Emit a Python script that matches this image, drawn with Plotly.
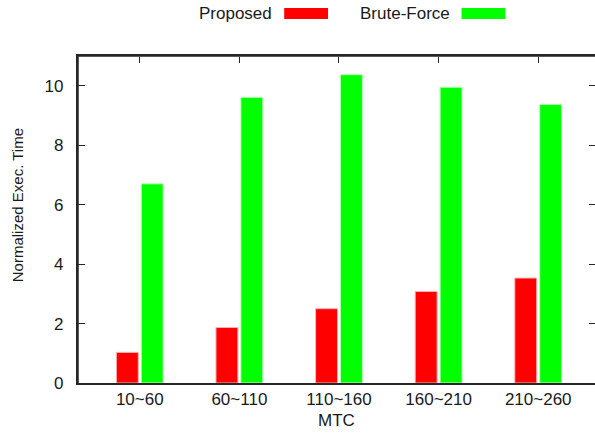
import plotly.graph_objects as go

# MTC ranges and normalized execution times
categories = ["10~60", "60~110", "110~160", "160~210", "210~260"]
proposed = [1.03, 1.87, 2.50, 3.08, 3.53]
brute_force = [6.70, 9.61, 10.37, 9.95, 9.37]
y_ticks = [0, 2, 4, 6, 8, 10]

FONT = "Liberation Sans, Arial, Helvetica, sans-serif"
AXIS_COLOR = "#262626"
TEXT_COLOR = "#1a1a1a"
RED = "#ff0000"
GREEN = "#00ff00"

# plot-area geometry in pixels
L, R, T, B = 78, 597, 56, 383
W, H = R - L, B - T

x_idx = list(range(len(categories)))
x_range = [-0.62, 4.57]
y_range = [0, 11]

fig = go.Figure()
fig.add_trace(go.Bar(
    x=x_idx, y=proposed, name="Proposed",
    width=0.22, offset=-0.235,
    marker=dict(color=RED, line=dict(color="#ffb3b3", width=1)),
))
fig.add_trace(go.Bar(
    x=x_idx, y=brute_force, name="Brute-Force",
    width=0.22, offset=0.015,
    marker=dict(color=GREEN, line=dict(color="#b8ffb8", width=1)),
))

# left and top border of the plot box, traced along the axis limits
fig.add_trace(go.Scatter(
    x=[x_range[0], x_range[0], x_range[1]],
    y=[y_range[0], y_range[1], y_range[1]],
    mode="lines", line=dict(color=AXIS_COLOR, width=1.5),
    cliponaxis=False, hoverinfo="skip", showlegend=False,
))

# invisible trace that carries the helper axes for the inner tick marks
fig.add_trace(go.Scatter(
    x=x_idx, y=proposed, xaxis="x2", yaxis="y2",
    mode="markers", marker=dict(opacity=0),
    hoverinfo="skip", showlegend=False,
))

fig.update_layout(
    width=597, height=437,
    margin=dict(l=L, r=0, t=T, b=437 - B),
    plot_bgcolor="white", paper_bgcolor="white",
    showlegend=False,
    font=dict(family=FONT, size=17, color=TEXT_COLOR),
    xaxis=dict(
        range=x_range, tickvals=x_idx, ticktext=categories,
        showline=True, linecolor=AXIS_COLOR, linewidth=1.5, mirror=True,
        ticks="", showgrid=False, zeroline=False,
        title=dict(text="MTC", standoff=6, font=dict(size=17)),
    ),
    yaxis=dict(
        range=y_range, tickvals=y_ticks,
        ticktext=[f"{v}\u00a0\u00a0" for v in y_ticks],
        showline=True, linecolor=AXIS_COLOR, linewidth=1.5, mirror="ticks",
        ticks="inside", ticklen=6, tickcolor=AXIS_COLOR, tickwidth=1,
        showgrid=False, zeroline=False,
    ),
    # tick marks pointing down from the top edge
    xaxis2=dict(
        overlaying="x", anchor="free", position=1, side="bottom",
        range=x_range, tickvals=x_idx, showticklabels=False,
        ticks="outside", ticklen=6, tickcolor=AXIS_COLOR, tickwidth=1,
        showline=False, showgrid=False, zeroline=False,
    ),
    # tick marks pointing right from the left edge
    yaxis2=dict(
        overlaying="y", anchor="free", position=0, side="right",
        range=y_range, tickvals=y_ticks, showticklabels=False,
        ticks="outside", ticklen=6, tickcolor=AXIS_COLOR, tickwidth=1,
        showline=False, showgrid=False, zeroline=False,
    ),
)

# y-axis title
fig.add_annotation(
    text="Normalized Exec. Time", textangle=-90,
    xref="paper", yref="paper", x=(17 - L) / W, y=(B - 205) / H,
    xanchor="center", yanchor="middle",
    showarrow=False, font=dict(size=15, color=TEXT_COLOR),
)

# legend: label followed by its colour swatch
legend_items = [("Proposed", RED, 275, 285), ("Brute-Force", GREEN, 453, 463)]
for label, color, text_right, sw_left in legend_items:
    fig.add_annotation(
        text=label, xref="paper", yref="paper",
        x=(text_right - L) / W, y=(B - 13.5) / H,
        xanchor="right", yanchor="middle", showarrow=False,
        font=dict(size=17, color=TEXT_COLOR),
    )
    fig.add_shape(
        type="rect", xref="paper", yref="paper",
        x0=(sw_left - L) / W, x1=(sw_left + 44 - L) / W,
        y0=(B - 19) / H, y1=(B - 8) / H,
        fillcolor=color, line=dict(width=0),
    )

fig.write_html("out.html")
